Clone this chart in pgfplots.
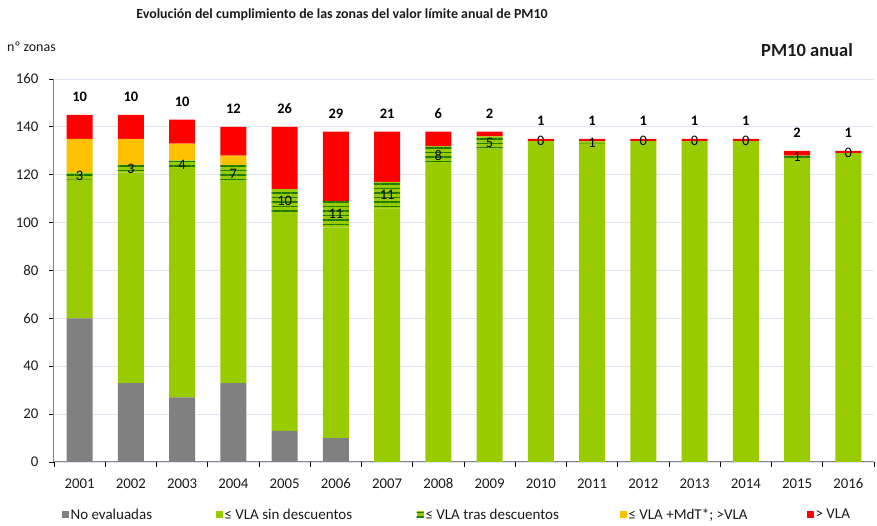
\documentclass[border=0pt]{standalone}
\usepackage{pgfplots}
\pgfplotsset{compat=1.18}
\usepackage{pgfplotstable}
\usepackage{fontspec}
\setmainfont{Carlito}
\usetikzlibrary{patterns.meta}
\definecolor{cgray}{HTML}{808080}
\definecolor{cgreen}{HTML}{99CC00}
\definecolor{cdkgreen}{HTML}{1E7A00}
\definecolor{corange}{HTML}{FFC000}
\definecolor{cred}{HTML}{FF0000}
\definecolor{cgrid}{HTML}{DCE6F2}
\definecolor{caxis}{HTML}{868686}
\definecolor{ctext}{HTML}{1A1A1A}

% hy = plotted height of the hatched segment (zero drawn as 0.01 so its label is kept)
\pgfplotstableread{
x gray green hatch hy orange red
0 60 58 3 3 14 10
1 33 88 3 3 11 10
2 27 95 4 4 7 10
3 33 84 7 7 4 12
4 13 91 10 10 0 26
5 10 88 11 11 0 29
6 0 106 11 11 0 21
7 0 124 8 8 0 6
8 0 131 5 5 0 2
9 0 134 0 0.01 0 1
10 0 133 1 1 0 1
11 0 134 0 0.01 0 1
12 0 134 0 0.01 0 1
13 0 134 0 0.01 0 1
14 0 127 1 1 0 2
15 0 129 0 0.01 0 1
}\datatable

\begin{document}
\begin{tikzpicture}
\path[use as bounding box] (0pt,0pt) rectangle (877pt,526pt);
\node[font=\bfseries\fontsize{13.9}{15}\selectfont, text=ctext] at (342pt,511pt) {Evolución del cumplimiento de las zonas del valor límite anual de PM10};
\node[anchor=west, font=\fontsize{14}{16}\selectfont, text=ctext, inner sep=0pt] at (7pt,479pt) {nº zonas};
\node[anchor=east, font=\bfseries\fontsize{18.5}{20}\selectfont, text=ctext, inner sep=0pt] at (853pt,476pt) {PM10 anual};
\begin{axis}[
  at={(54pt,64pt)}, anchor=south west,
  scale only axis, width=820pt, height=383pt,
  ybar stacked, bar width=26pt,
  xmin=-0.5, xmax=15.5, ymin=0, ymax=160,
  xtick={0,...,15},
  xticklabels={2001,2002,2003,2004,2005,2006,2007,2008,2009,2010,2011,2012,2013,2014,2015,2016},
  minor xtick={-0.5,0.5,...,15.5},
  ytick={0,20,...,160},
  axis x line*=bottom, axis y line*=left,
  axis line style={caxis, line width=1pt},
  tick align=outside,
  major tick length=5pt, minor tick length=5pt,
  major x tick style={draw=none},
  minor x tick style={black, line width=0.8pt},
  y tick style={black, line width=0.8pt},
  ymajorgrids, grid style={cgrid, line width=0.8pt},
  tick label style={font=\fontsize{14.8}{16}\selectfont, text=ctext},
  xticklabel style={yshift=-8pt},
  yticklabel style={xshift=-7pt},
  /pgf/number format/assume math mode=true,
  clip=false,
  legend columns=5,
  legend style={at={(axis description cs:0.009,-0.138)}, anchor=west, draw=none, fill=none,
    font=\fontsize{15}{17}\selectfont, text=ctext, inner sep=0pt,
    nodes={inner sep=2pt},
    /tikz/every even column/.append style={column sep=0pt}},
  legend image code/.code={\fill[#1] (0pt,-3.5pt) rectangle (7pt,3.5pt);},
]
\addplot[fill=cgray, draw=none] table[x=x,y=gray] {\datatable};
\addlegendentry{\makebox[143pt][l]{No evaluadas}}
\addplot[fill=cgreen, draw=none] table[x=x,y=green] {\datatable};
\addlegendentry{\makebox[190pt][l]{≤ VLA sin descuentos}}
\addplot[fill=cgreen, draw=none,
  postaction={pattern={Lines[distance=4.5pt,line width=1.1pt]}, pattern color=cdkgreen},
  point meta=explicit, nodes near coords,
  every node near coord/.append style={anchor=center, font=\fontsize{14.5}{16}\selectfont, text=black}
  ] table[x=x,y=hy,meta=hatch] {\datatable};
\addlegendentry{\makebox[192pt][l]{≤ VLA tras descuentos}}
\addplot[fill=corange, draw=none] table[x=x,y=orange] {\datatable};
\addlegendentry{\makebox[176pt][l]{≤ VLA +MdT*; >VLA}}
\addplot[fill=cred, draw=none,
  point meta=explicit, nodes near coords,
  visualization depends on={rawy \as \hval},
  every node near coord/.append style={anchor=center, yshift={18pt+1.1969pt*\hval}, font=\bfseries\fontsize{14.5}{16}\selectfont, text=black}
  ] table[x=x,y=red,meta=red] {\datatable};
\addlegendentry{> VLA}
\end{axis}
\end{tikzpicture}
\end{document}
